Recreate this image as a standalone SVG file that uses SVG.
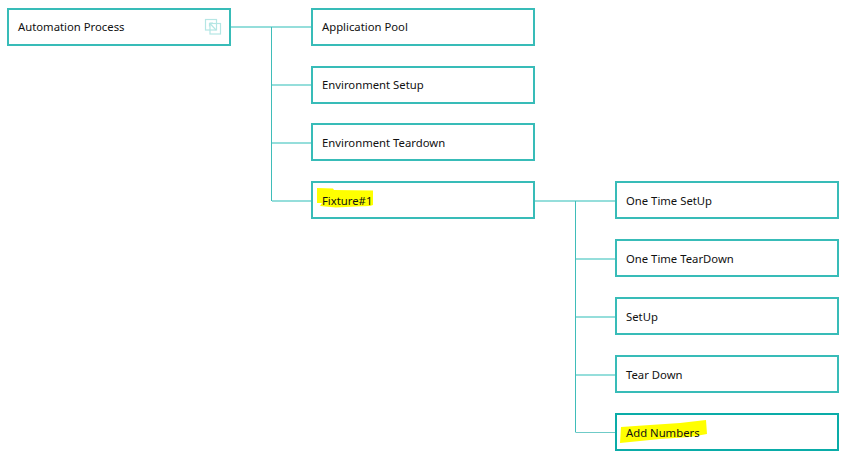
<svg xmlns="http://www.w3.org/2000/svg" width="859" height="465" viewBox="0 0 859 465">
<style>
.box{fill:#fff;stroke:#38bcb8;stroke-width:2}
.sel{fill:#fff;stroke:#0aaca8;stroke-width:2}
.t{font-family:"Noto Sans","Open Sans",sans-serif;font-size:11.3px;fill:#111}
.h{stroke:#95dedb;stroke-width:2;fill:none}
.v{stroke:#3fbdb9;stroke-width:1;fill:none}
.m{stroke:#6fcbc8;stroke-width:1;fill:none}
.hl{fill:#ffff00}
.ic{fill:none;stroke:#b5e6e4;stroke-width:1.2}
</style>
<rect width="859" height="465" fill="#fff"/>
<g id="connectors">
<path class="h" d="M231 27H311M272 85H311M272 143H311M272 201H311M535 201H615M576 259H615M576 317H615M576 375H615"/>
<path class="v" d="M271.500 27V201M575.500 201V432.500"/>
<path class="m" d="M576 432.500H615"/>
</g>
<g id="node-automation"><rect class="box" x="8" y="9" width="222" height="36"/><text class="t" x="18" y="31">Automation Process</text>
<g class="ic"><rect x="205.500" y="19.500" width="11" height="10.500"/><rect x="210" y="23.500" width="10.500" height="10.500"/><path d="M209.500 23L216 30M209.500 23h3.500M209.500 23v3.500"/></g></g>
<g id="node-application-pool"><rect class="box" x="312" y="9" width="222" height="36"/><text class="t" x="322" y="31">Application Pool</text></g>
<g id="node-environment-setup"><rect class="box" x="312" y="67" width="222" height="36"/><text class="t" x="322" y="89">Environment Setup</text></g>
<g id="node-environment-teardown"><rect class="box" x="312" y="124" width="222" height="36"/><text class="t" x="322" y="147">Environment Teardown</text></g>
<g id="node-fixture"><rect class="box" x="312" y="182" width="222" height="36"/><path class="hl" d="M317 188L333 188.500L334 190L373 190.500L373 205L370 206L356 206.500L336 207.500L320 206L322 203L317 203Z"/><text class="t" x="322" y="205">Fixture#1</text></g>
<g id="node-one-time-setup"><rect class="box" x="616" y="182" width="222" height="36"/><text class="t" x="626" y="205">One Time SetUp</text></g>
<g id="node-one-time-teardown"><rect class="box" x="616" y="240" width="222" height="36"/><text class="t" x="626" y="263">One Time TearDown</text></g>
<g id="node-setup"><rect class="box" x="616" y="298" width="222" height="36"/><text class="t" x="626" y="321">SetUp</text></g>
<g id="node-tear-down"><rect class="box" x="616" y="356" width="222" height="36"/><text class="t" x="626" y="379">Tear Down</text></g>
<g id="node-add-numbers"><rect class="sel" x="616" y="414" width="222" height="36"/><path class="hl" d="M621 427L650 425L680 423L706 420L707 434L690 437L660 439L640 441L620 443Z"/><text class="t" x="626" y="437">Add Numbers</text></g>
</svg>
